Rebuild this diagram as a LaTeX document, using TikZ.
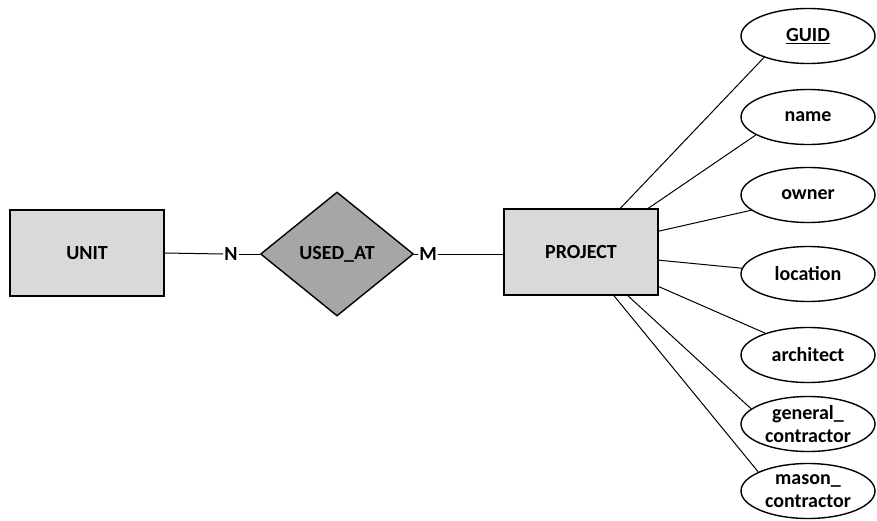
\documentclass[tikz,border=0pt]{standalone}
\usepackage{fontspec}
\setmainfont{Carlito}
\usepackage{tikz}
\usetikzlibrary{shapes.geometric}
\definecolor{entgray}{RGB}{217,217,217}
\definecolor{relgray}{RGB}{166,166,166}

\begin{document}
\begin{tikzpicture}[x=1pt, y=-1pt, font=\fontsize{20}{23}\selectfont\bfseries,
  entity/.style={rectangle, draw, line width=1.4pt, fill=entgray, minimum width=154pt, minimum height=86pt},
  relation/.style={diamond, draw, line width=1.4pt, fill=relgray, minimum width=153pt, minimum height=124pt, inner sep=0pt},
  attr/.style={ellipse, draw, line width=1.4pt, fill=white, minimum width=134pt, minimum height=55pt, inner sep=0pt, align=center},
  card/.style={inner sep=1pt},
  conn/.style={line width=1pt}]
  \useasboundingbox (0, 0) rectangle (877, 520);

  \draw (87, 253) node[entity] (unit) {UNIT};
  \draw (337, 254) node[relation] (usedat) {USED\_AT};
  \draw (581, 252) node[entity] (project) {PROJECT};

% cardinalities
  \draw (231, 254) node[card] (n) {N};
  \draw (428, 254) node[card] (m) {M};
  \draw[conn] (unit.east) -- (n.west);
  \draw[conn] (n.east) -- (usedat.west);
  \draw[conn] (usedat.east) -- (m.west);
  \draw[conn] (m.east) -- (project.west |- m.east);

% attributes of PROJECT
  \foreach \nm/\y/\a/\b/\txt in {guid/36/48/206/{\underline{GUID}}, name/117/33/199/name,
      owner/195/15/195/owner, loc/274/-6/175/location, arch/355/-24/153/architect,
      gen/424/-43/165/{general\_\\contractor}, mason/491/-53/159/{mason\_\\contractor}}{
    \draw (808, \y) node[attr] (\nm) {\txt};
    \draw[conn] (project.\a) -- (\nm.\b);
  }
\end{tikzpicture}
\end{document}
